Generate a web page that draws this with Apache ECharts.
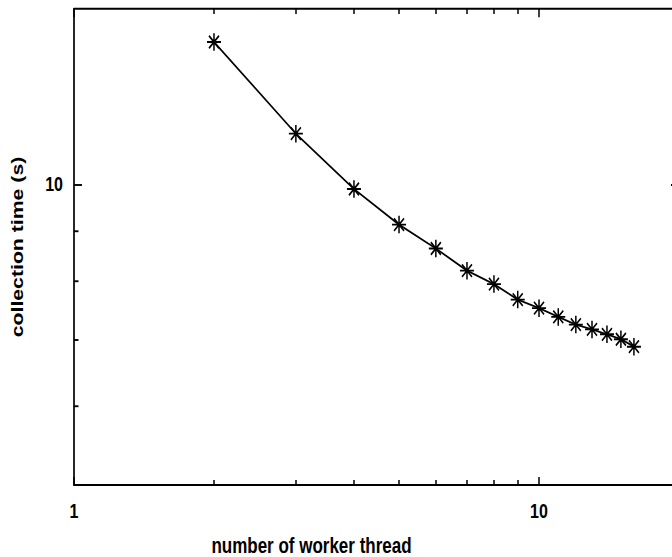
<!DOCTYPE html>
<html>
<head>
<meta charset="utf-8">
<script src="https://cdn.jsdelivr.net/npm/echarts@6/dist/echarts.min.js"></script>
<style>
  html { overflow: hidden; }
  html, body { margin: 0; padding: 0; background: #fff; }
  body { width: 672px; height: 557px; }
  /* the source figure is stretched vertically, so draw at 1/1.25 height and scale up */
  #chart { width: 690px; height: 445.6px; transform: scaleY(1.25); transform-origin: 0 0; }
</style>
</head>
<body>
<div id="chart"></div>
<script>
var threads = [2, 3, 4, 5, 6, 7, 8, 9, 10, 11, 12, 13, 14, 15, 16];
var times = [13.9, 11.25, 9.9, 9.12, 8.63, 8.2, 7.95, 7.67, 7.52, 7.37, 7.24, 7.16, 7.08, 7.0, 6.88];
var xLabels = [1, 10];
var xMinorTicks = [2, 3, 4, 5, 6, 7, 8, 9];
var yLabels = [10];
var yMinorTicks = [6, 7, 8, 9];

var font = 'Liberation Sans';
var star = 'path://M0,-7L0,7M-7,0L7,0M-5,-5L5,5M-5,5L5,-5';

var chart = echarts.init(document.getElementById('chart'), null, { renderer: 'svg' });

function xAxisBase(pos) {
    return {
        type: 'log',
        logBase: 10,
        min: 1,
        max: 20,
        position: pos,
        gridIndex: 0,
        axisLine: { show: true, onZero: false, lineStyle: { color: '#000', width: 1.7 } },
        splitLine: { show: false }
    };
}
function yAxisBase(pos) {
    return {
        type: 'log',
        logBase: 10,
        min: 5,
        max: 15,
        position: pos,
        gridIndex: 0,
        axisLine: { show: true, onZero: false, lineStyle: { color: '#000', width: 1.7 } },
        splitLine: { show: false }
    };
}

var xMain = xAxisBase('bottom');
xMain.name = 'number of worker thread';
xMain.nameLocation = 'middle';
xMain.nameGap = 40;
xMain.nameTextStyle = { fontFamily: font, fontWeight: 'bold', fontSize: 17, color: '#000', padding: [0, 130, 0, 0] };
xMain.axisTick = { show: true, inside: true, length: 6.5, customValues: xLabels, lineStyle: { color: '#000', width: 1.5 } };
xMain.axisLabel = { show: true, margin: 13, customValues: xLabels, fontFamily: font, fontWeight: 'bold', fontSize: 16, color: '#000' };

var xMinor = xAxisBase('bottom');
xMinor.axisLine = { show: false };
xMinor.axisTick = { show: true, inside: true, length: 4, customValues: xMinorTicks, lineStyle: { color: '#000', width: 1.5 } };
xMinor.axisLabel = { show: false };

var xTop = xAxisBase('top');
xTop.axisTick = { show: true, inside: true, length: 6.5, customValues: xLabels, lineStyle: { color: '#000', width: 1.5 } };
xTop.axisLabel = { show: false };

var xTopMinor = xAxisBase('top');
xTopMinor.axisLine = { show: false };
xTopMinor.axisTick = { show: true, inside: true, length: 4, customValues: xMinorTicks, lineStyle: { color: '#000', width: 1.5 } };
xTopMinor.axisLabel = { show: false };

var yMain = yAxisBase('left');
yMain.name = 'collection time (s)';
yMain.nameLocation = 'middle';
yMain.nameGap = 48;
yMain.nameTextStyle = { fontFamily: font, fontWeight: 'bold', fontSize: 17, color: '#000' };
yMain.axisTick = { show: true, inside: true, length: 8, customValues: yLabels, lineStyle: { color: '#000', width: 1.5 } };
yMain.axisLabel = { show: true, margin: 11, customValues: yLabels, fontFamily: font, fontWeight: 'bold', fontSize: 16, color: '#000' };

var yMinor = yAxisBase('left');
yMinor.axisLine = { show: false };
yMinor.axisTick = { show: true, inside: true, length: 4.5, customValues: yMinorTicks, lineStyle: { color: '#000', width: 1.5 } };
yMinor.axisLabel = { show: false };

var yRight = yAxisBase('right');
yRight.axisTick = { show: true, inside: true, length: 8, customValues: yLabels, lineStyle: { color: '#000', width: 1.5 } };
yRight.axisLabel = { show: false };

var option = {
    animation: false,
    backgroundColor: '#fff',
    grid: { left: 74, width: 605, top: 7.2, height: 380.8, containLabel: false, outerBoundsMode: 'none' },
    xAxis: [xMain, xMinor, xTop, xTopMinor],
    yAxis: [yMain, yMinor, yRight],
    series: [{
        type: 'line',
        xAxisIndex: 0,
        yAxisIndex: 0,
        data: threads.map(function (t, i) { return [t, times[i]]; }),
        symbol: star,
        symbolSize: 14,
        symbolKeepAspect: true,
        lineStyle: { color: '#000', width: 1.5 },
        itemStyle: { color: 'none', borderColor: '#000', borderWidth: 1.5 }
    }]
};

chart.setOption(option);
</script>
</body>
</html>
